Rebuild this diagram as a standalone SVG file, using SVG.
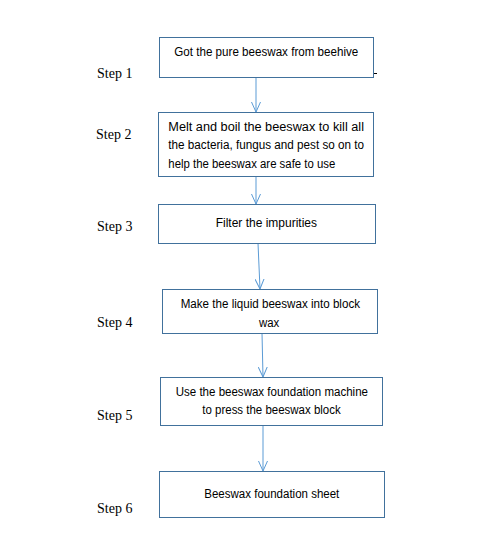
<svg xmlns="http://www.w3.org/2000/svg" width="481" height="560" viewBox="0 0 481 560">
<style>
.box{fill:#fff;stroke:#41719C;stroke-width:1}
.t{font-family:"Liberation Sans",Arial,sans-serif;font-size:12px;fill:#000}
.s{font-family:"Liberation Serif","Times New Roman",serif;font-size:14px;fill:#000}
.c{stroke:#5B9BD5;stroke-width:1;fill:none;marker-end:url(#ah)}
</style>
<defs>
<marker id="ah" viewBox="0 0 10 10" refX="10" refY="5" markerWidth="10" markerHeight="10" markerUnits="userSpaceOnUse" orient="auto">
<polyline points="0,0.5 10,5 0,9.5" fill="none" stroke="#5B9BD5" stroke-width="1"/>
</marker>
</defs>
<rect width="481" height="560" fill="#fff"/>
<g id="connectors">
<line class="c" x1="256" y1="77" x2="256" y2="112"/>
<line class="c" x1="256" y1="176" x2="256" y2="204"/>
<line class="c" x1="258" y1="243" x2="260" y2="289"/>
<line class="c" x1="262" y1="333" x2="263" y2="377"/>
<line class="c" x1="263" y1="425" x2="263" y2="471"/>
</g>
<g id="step1">
<rect class="box" x="159.5" y="37.5" width="214" height="40"/>
<text class="t" x="174.3" y="56" textLength="184" lengthAdjust="spacingAndGlyphs">Got the pure beeswax from beehive</text>
<line x1="374" y1="73.5" x2="377" y2="73.5" stroke="#000" stroke-width="1"/>
<text class="s" x="97" y="78">Step 1</text>
</g>
<g id="step2">
<rect class="box" x="158.5" y="112.5" width="215" height="64"/>
<text class="t" x="168.3" y="131" textLength="195.7" lengthAdjust="spacingAndGlyphs">Melt and boil the beeswax to kill all</text>
<text class="t" x="168.3" y="149.3" textLength="195.7" lengthAdjust="spacingAndGlyphs">the bacteria, fungus and pest so on to</text>
<text class="t" x="168.3" y="167.7" textLength="167" lengthAdjust="spacingAndGlyphs">help the beeswax are safe to use</text>
<text class="s" x="96" y="139">Step 2</text>
</g>
<g id="step3">
<rect class="box" x="158.5" y="204.5" width="217" height="39"/>
<text class="t" x="215.7" y="226.7" textLength="101.3" lengthAdjust="spacingAndGlyphs">Filter the impurities</text>
<text class="s" x="97" y="231">Step 3</text>
</g>
<g id="step4">
<rect class="box" x="162.5" y="289.5" width="215" height="44"/>
<text class="t" x="180.7" y="308.3" textLength="179.3" lengthAdjust="spacingAndGlyphs">Make the liquid beeswax into block</text>
<text class="t" x="259" y="326.7" textLength="20.3" lengthAdjust="spacingAndGlyphs">wax</text>
<text class="s" x="97" y="327">Step 4</text>
</g>
<g id="step5">
<rect class="box" x="160.5" y="377.5" width="222" height="48"/>
<text class="t" x="175.7" y="395.7" textLength="192.3" lengthAdjust="spacingAndGlyphs">Use the beeswax foundation machine</text>
<text class="t" x="202.3" y="414.3" textLength="138.4" lengthAdjust="spacingAndGlyphs">to press the beeswax block</text>
<text class="s" x="97" y="420">Step 5</text>
</g>
<g id="step6">
<rect class="box" x="159.5" y="471.5" width="225" height="46"/>
<text class="t" x="204.3" y="497.7" textLength="135" lengthAdjust="spacingAndGlyphs">Beeswax foundation sheet</text>
<text class="s" x="97" y="513">Step 6</text>
</g>
</svg>
